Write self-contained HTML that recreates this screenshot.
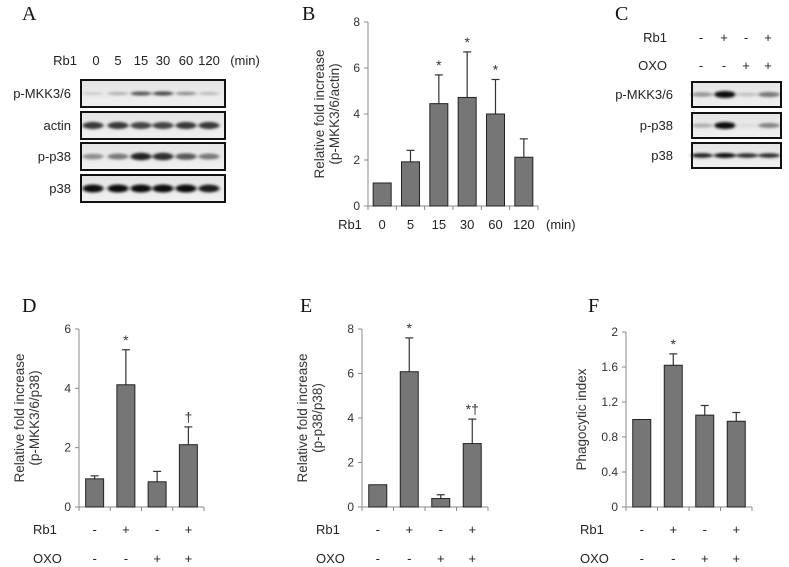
<!DOCTYPE html>
<html><head><meta charset="utf-8">
<style>
html,body{margin:0;padding:0;background:#fff;}
svg{display:block;font-family:"Liberation Sans",Arial,sans-serif;}
.lbl{font-size:13px;fill:#222;}
.ttl{font-size:13.5px;fill:#333;}
.tick{font-size:12px;fill:#333;}
.star{font-size:14px;fill:#333;}
.panel{font-family:"Liberation Serif",serif;font-size:20px;fill:#111;}
</style></head>
<body>
<svg id="fig" width="789" height="567" viewBox="0 0 789 567">
<defs>
<filter id="blur" x="-50%" y="-100%" width="200%" height="300%"><feGaussianBlur stdDeviation="1.6 1.3"/></filter>
<linearGradient id="bg" x1="0" y1="0" x2="0" y2="1"><stop offset="0" stop-color="#e4e4e4"/><stop offset="1" stop-color="#f0f0f0"/></linearGradient>
</defs>
</svg>
<script>
// ---- Data ----
const aLanes = ['0','5','15','30','60','120'];
const aRows = ['p-MKK3/6','actin','p-p38','p38'];
const aMkk = [0.12,0.25,0.65,0.7,0.4,0.2];
const aActin = [0.8,0.8,0.75,0.75,0.8,0.8];
const aPp38 = [0.4,0.5,0.9,0.85,0.65,0.5];
const aP38 = [1,1,1,1,1,0.95];
const cRows = ['p-MKK3/6','p-p38','p38'];
const cMkk = [0.35,1,0.15,0.5];
const cPp38 = [0.25,1,0.03,0.45];
const cP38 = [0.9,1,0.85,0.85];
const bCats = ['0','5','15','30','60','120'];
const bVals = [1,1.92,4.45,4.72,4.0,2.12];
const bErr = [0,0.5,1.25,1.98,1.5,0.8];
const bSig = ['','','*','*','*',''];
const bTicks = [0,2,4,6,8];
const rb1 = ['-','+','-','+'];
const oxo = ['-','-','+','+'];
const dVals = [0.95,4.12,0.85,2.1];
const dErr = [0.1,1.18,0.35,0.6];
const dSig = ['','*','','†'];
const dTicks = [0,2,4,6];
const eVals = [1,6.08,0.38,2.85];
const eErr = [0,1.52,0.17,1.1];
const eSig = ['','*','','*†'];
const eTicks = [0,2,4,6,8];
const fVals = [1,1.62,1.05,0.98];
const fErr = [0,0.13,0.11,0.1];
const fSig = ['','*','',''];
const fTicks = [0,0.4,0.8,1.2,1.6,2];

const svg = document.getElementById('fig');
const NS = 'http://www.w3.org/2000/svg';
function mk(tag, attrs, parent){
  const e = document.createElementNS(NS, tag);
  for(const k in attrs) e.setAttribute(k, attrs[k]);
  (parent||svg).appendChild(e);
  return e;
}
function txt(x,y,s,cls,anchor,parent){
  const t = mk('text',{x:x,y:y,class:cls,'text-anchor':anchor||'middle'},parent);
  t.textContent = s;
  return t;
}

[['A',22,20],['B',302,20],['C',615,20],['D',22,312],['E',300,312],['F',588,312]].forEach(p=>{
  const t = txt(p[1],p[2],p[0],'panel','start');
  
  
});

function blot(x0,y0,w,h,centers,vals,bandW,bandH,name){
  const g = mk('g',{});
  
  
  mk('rect',{x:x0,y:y0,width:w,height:h,fill:'url(#bg)'},g);
  const bg = mk('g',{filter:'url(#blur)'},g);
  vals.forEach((v,i)=>{
    const c = Math.round(225 - v*210);
    const b = mk('ellipse',{cx:centers[i],cy:y0+h/2,rx:bandW/2,ry:bandH*(0.5+0.5*v)/2,fill:`rgb(${c},${c},${c})`},bg);
    
    
  });
  mk('rect',{x:x0,y:y0,width:w,height:h,fill:'none',stroke:'#111','stroke-width':2},g);
}
txt(77,65,'Rb1','lbl','end');
const aCx = [93,118,141,163,186,209];
aLanes.forEach((l,i)=>txt(aCx[i]+(i==0?3:0),65,l,'lbl'));
txt(245,65,'(min)','lbl');
const aY = [80,112,143,175];
const aVals = [aMkk,aActin,aPp38,aP38];
aRows.forEach((r,i)=>{
  txt(71,aY[i]+18,r,'lbl','end');
  blot(81,aY[i],144,27,aCx,aVals[i],21,i==0?5:8,'blot-a-'+r.replace('/','-'));
});
const cCx = [702,725,747,769];
txt(667,42,'Rb1','lbl','end');
txt(667,70,'OXO','lbl','end');
rb1.forEach((s,i)=>txt(cCx[i]-1,42,s,'lbl'));
oxo.forEach((s,i)=>txt(cCx[i]-1,70,s,'lbl'));
const cY = [82,113,143];
const cVals=[cMkk,cPp38,cP38];
cRows.forEach((r,i)=>{
  txt(673,cY[i]+17,r,'lbl','end');
  blot(692,cY[i],89,25,cCx,cVals[i],22,i==2?5:7,'blot-c-'+r.replace('/','-'));
});

function barChart(o){
  const g = mk('g',{});
  
  
  const n = o.vals.length;
  const step = (o.x1-o.x0)/n;
  const yMax = o.ticks[o.ticks.length-1];
  const ys = v => o.y0 - (v/yMax)*(o.y0-o.yTop);
  const xs = i => o.x0 + step*(i+0.5);
  mk('line',{x1:o.x0,y1:o.yTop,x2:o.x0,y2:o.y0,stroke:'#888','stroke-width':1},g);
  mk('line',{x1:o.x0-3,y1:o.y0,x2:o.x1,y2:o.y0,stroke:'#888','stroke-width':1},g);
  for(let i=0;i<=n;i++) mk('line',{x1:o.x0+step*i,y1:o.y0,x2:o.x0+step*i,y2:o.y0+4,stroke:'#888'},g);
  o.ticks.forEach(t=>{
    mk('line',{x1:o.x0-4,y1:ys(t),x2:o.x0,y2:ys(t),stroke:'#888'},g);
    const tl = txt(o.x0-8,ys(t)+4,String(t),'tick','end',g);
    
    
  });
  o.vals.forEach((v,i)=>{
    const bw = o.bw;
    const e = o.err[i];
    if(e>0){
      mk('line',{x1:xs(i),y1:ys(v),x2:xs(i),y2:ys(v+e),stroke:'#333','stroke-width':1.2},g);
      mk('line',{x1:xs(i)-4,y1:ys(v+e),x2:xs(i)+4,y2:ys(v+e),stroke:'#333','stroke-width':1.2},g);
    }
    const r = mk('rect',{x:xs(i)-bw/2,y:ys(v),width:bw,height:o.y0-ys(v),fill:'#767676',stroke:'#222','stroke-width':1},g);
    
    
    if(o.sig[i]) txt(xs(i),ys(v+e)-5,o.sig[i],'star','middle',g);
  });
  const tg = mk('g',{transform:`translate(${o.titleX},${(o.y0+o.yTop)/2}) rotate(-90)`},g);
  o.title.forEach((line,k)=>{
    const t = txt(0,k*15,line,'ttl','middle',tg);
    
    
  });
  if(o.cats){
    o.cats.forEach((c,i)=>txt(xs(i),o.y0+23,c,'lbl','middle',g));
    txt(o.x0-18,o.y0+23,'Rb1','lbl','middle',g);
    txt(o.x1+8,o.y0+23,'(min)','lbl','start',g);
  } else {
    txt(o.x0-46,o.y0+27,'Rb1','lbl','start',g);
    txt(o.x0-46,o.y0+56,'OXO','lbl','start',g);
    rb1.forEach((s,i)=>txt(xs(i),o.y0+27,s,'lbl','middle',g));
    oxo.forEach((s,i)=>txt(xs(i),o.y0+56,s,'lbl','middle',g));
  }
}
barChart({name:'chart-b',x0:368,x1:538,y0:206,yTop:22,vals:bVals,err:bErr,sig:bSig,ticks:bTicks,bw:18,cats:bCats,titleX:324,title:['Relative fold increase','(p-MKK3/6/actin)']});
barChart({name:'chart-d',x0:79,x1:204,y0:507,yTop:329,vals:dVals,err:dErr,sig:dSig,ticks:dTicks,bw:18,titleX:24,title:['Relative fold increase','(p-MKK3/6/p38)']});
barChart({name:'chart-e',x0:362,x1:488,y0:507,yTop:329,vals:eVals,err:eErr,sig:eSig,ticks:eTicks,bw:18,titleX:307,title:['Relative fold increase','(p-p38/p38)']});
barChart({name:'chart-f',x0:626,x1:752,y0:507,yTop:332,vals:fVals,err:fErr,sig:fSig,ticks:fTicks,bw:18,titleX:586,title:['Phagocytic index']});
</script>
</body></html>
